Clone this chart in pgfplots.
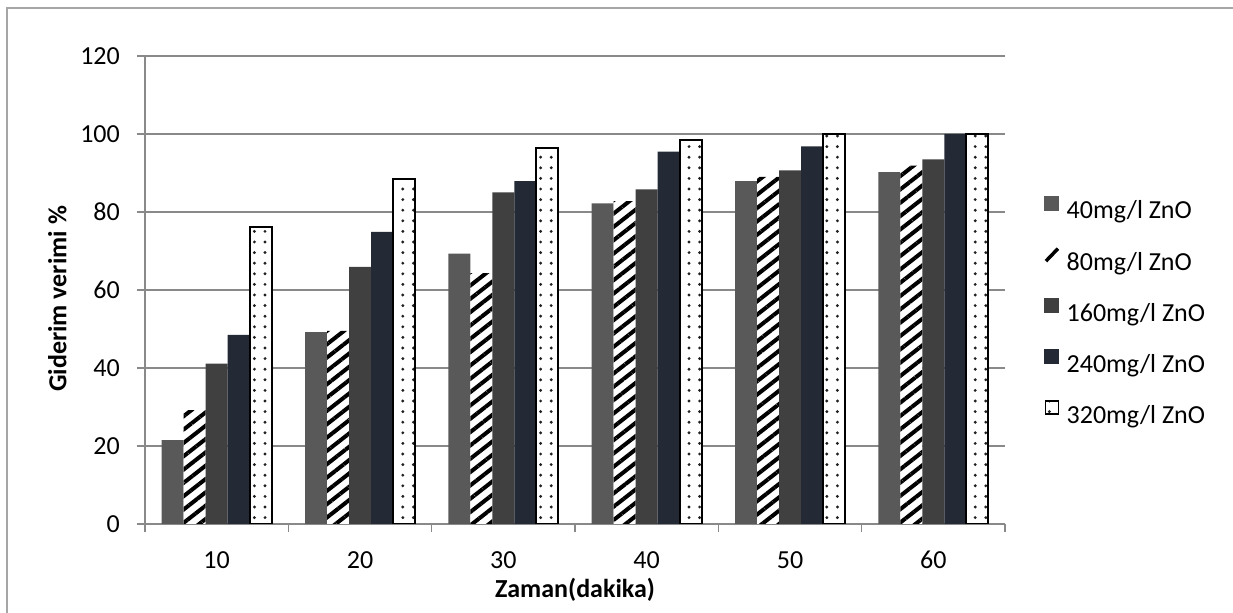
\documentclass[border=0pt]{standalone}
\usepackage{fontspec}
\setmainfont{Carlito}
\usepackage{pgfplots}
\pgfplotsset{compat=1.18}
\usetikzlibrary{patterns.meta}

\definecolor{cA}{HTML}{595959}
\definecolor{cC}{HTML}{404040}
\definecolor{cD}{HTML}{232A36}
\definecolor{gridgray}{HTML}{898989}
\definecolor{framegray}{HTML}{A6A6A6}
\definecolor{dotgray}{HTML}{202020}

\begin{document}
\begin{tikzpicture}[font=\fontsize{26bp}{31bp}\selectfont]
\useasboundingbox (0,0) rectangle (1233bp,613bp);
% chart frame
\draw[framegray, line width=1.5bp] (7bp,-20bp) -- (7bp,605bp) -- (1260bp,605bp);

\begin{axis}[
  at={(145bp,89bp)}, anchor=south west,
  scale only axis, width=860bp, height=468bp,
  ybar=0pt, bar width=22bp,
  xmin=0.5, xmax=6.5,
  ymin=0, ymax=120,
  xtick={1,2,3,4,5,6},
  xticklabels={10,20,30,40,50,60},
  minor xtick={0.5,1.5,2.5,3.5,4.5,5.5,6.5},
  major x tick style={draw=none},
  ytick={0,20,40,60,80,100,120},
  axis x line*=bottom, axis y line*=left,
  axis line style={gridgray, line width=1.2bp},
  tick style={gridgray, line width=1.2bp},
  tick align=outside,
  major tick length=8bp, minor tick length=8bp,
  ymajorgrids, major grid style={gridgray, line width=1.2bp},
  /pgf/number format/assume math mode=true,
  x tick label style={anchor=north, inner sep=0pt, yshift=-19bp},
  y tick label style={anchor=east, inner sep=0pt, xshift=-17bp},
  xlabel={\bfseries Zaman(dakika)},
  ylabel={\bfseries Giderim verimi \%},
  x label style={at={(axis description cs:0.5,-0.141)}, anchor=center},
  y label style={at={(axis description cs:-0.102,0.481)}, anchor=center},
  legend cell align=left,
  legend style={draw=none, fill=none, inner sep=0pt,
    at={(axis description cs:1.0453,0.452)}, anchor=west,
    row sep=22bp, column sep=7bp,
    nodes={inner sep=0pt, text height=20bp, text depth=6bp}},
]
\addplot[fill=cA, draw=none,
  legend image code/.code={\fill[cA] (0bp,1bp) rectangle (15bp,16bp);}]
  coordinates {(1,21.5) (2,49.2) (3,69.3) (4,82.2) (5,87.9) (6,90.2)};
\addlegendentry{40mg/l ZnO}
\addplot[draw=none, fill=white,
  postaction={pattern={Lines[angle=38,distance=10.5bp,line width=4bp]}, pattern color=black},
  legend image code/.code={\draw[black, line width=3.5bp] (1.5bp,2bp) -- (13.5bp,14.5bp);}]
  coordinates {(1,29.2) (2,49.5) (3,64.3) (4,82.8) (5,89.0) (6,91.9)};
\addlegendentry{80mg/l ZnO}
\addplot[fill=cC, draw=none,
  legend image code/.code={\fill[cC] (0bp,1bp) rectangle (15bp,16bp);}]
  coordinates {(1,41.1) (2,65.9) (3,85.0) (4,85.8) (5,90.7) (6,93.5)};
\addlegendentry{160mg/l ZnO}
\addplot[fill=cD, draw=none,
  legend image code/.code={\fill[cD] (0bp,1bp) rectangle (15bp,16bp);}]
  coordinates {(1,48.5) (2,74.9) (3,87.9) (4,95.5) (5,96.8) (6,100)};
\addlegendentry{240mg/l ZnO}
\addplot[fill=white, draw=black, line width=2bp,
  postaction={pattern={Dots[distance=10.6bp,radius=1.6bp]}, pattern color=dotgray},
  legend image code/.code={\draw[black, line width=1.8bp, fill=white] (1bp,2bp) rectangle (14bp,15bp);}]
  coordinates {(1,76.1) (2,88.5) (3,96.3) (4,98.5) (5,100) (6,100)};
\addlegendentry{320mg/l ZnO}
\end{axis}
\end{tikzpicture}
\end{document}
